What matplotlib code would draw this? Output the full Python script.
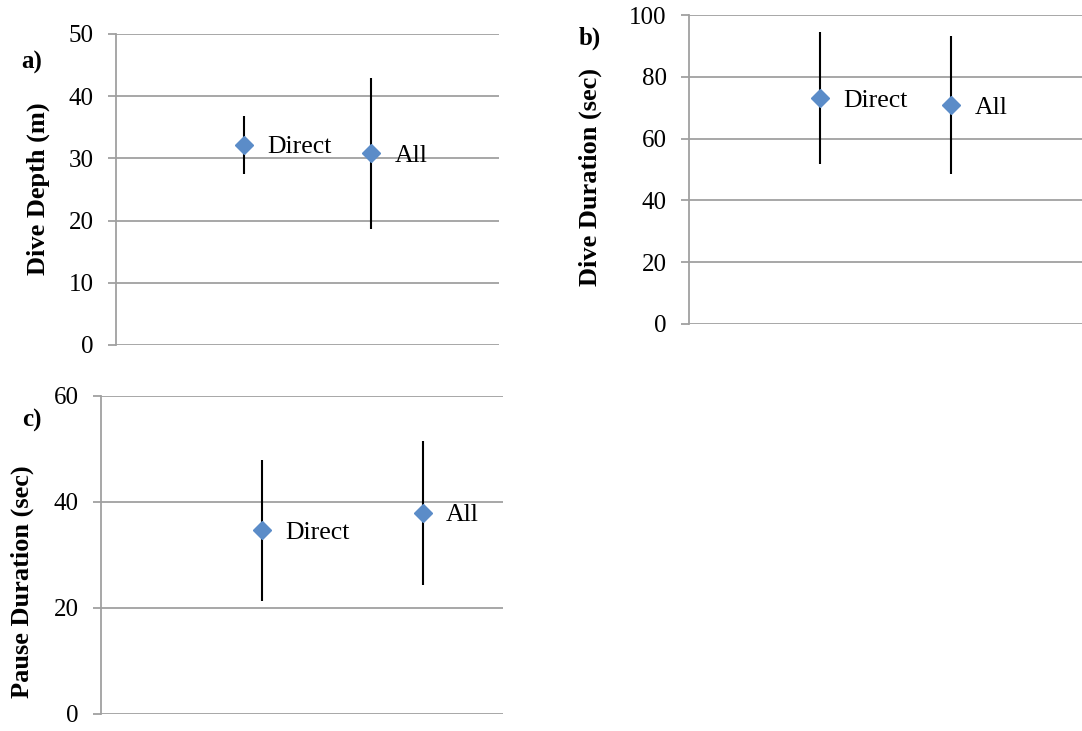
import numpy as np
import matplotlib
matplotlib.use("Agg")
import matplotlib.pyplot as plt

plt.rcParams['font.family'] = ['Liberation Serif', 'DejaVu Serif']

# data
groups = ["Direct", "All"]

depth_mean = [32.2, 30.9]
depth_hi = [36.8, 42.9]
depth_lo = [27.5, 18.6]

dur_mean = [73.1, 70.8]
dur_hi = [94.6, 93.1]
dur_lo = [51.7, 48.6]

pause_mean = [34.7, 38.0]
pause_hi = [48.0, 51.5]
pause_lo = [21.4, 24.3]

W, H = 1082, 731
fig = plt.figure(figsize=(W / 100, H / 100), dpi=100)

grid_col = '#a0a0a0'
blue = '#5b8cc8'


def px_axes(l, r, t, b):
    return fig.add_axes([l / W, 1 - b / H, (r - l) / W, (b - t) / H])


def panel(ax, mean, lo, hi, xmax, ymax, step):
    x = np.arange(1, len(mean) + 1)
    mean = np.array(mean)
    yerr = [mean - np.array(lo), np.array(hi) - mean]
    ax.errorbar(x, mean, yerr=yerr, fmt='none', ecolor='black', elinewidth=1.5, capsize=0, zorder=3)
    ax.plot(x, mean, 'D', color=blue, ms=9, mec=blue, zorder=4)
    for xi, yi, g in zip(x, mean, groups):
        ax.annotate(g, (xi, yi), xytext=(17, -2), textcoords='offset points',
                    ha='left', va='center', fontsize=18.5)
    ax.set_xlim(0, xmax)
    ax.set_ylim(0, ymax)
    ax.set_yticks(np.arange(0, ymax + 1, step))
    ax.set_xticks([])
    ax.yaxis.grid(True, color=grid_col, linewidth=1.3)
    ax.set_axisbelow(True)
    for s in ['top', 'right', 'bottom']:
        ax.spines[s].set_visible(False)
    ax.spines['left'].set_color(grid_col)
    ax.spines['left'].set_linewidth(1.3)
    ax.tick_params(axis='y', direction='out', length=6, width=1.3, color=grid_col,
                   labelsize=18, pad=10)
    ax.set_facecolor('none')


ax_a = px_axes(116, 499, 34, 345)
panel(ax_a, depth_mean, depth_lo, depth_hi, 3, 50, 10)

ax_b = px_axes(689, 1082, 15, 324)
panel(ax_b, dur_mean, dur_lo, dur_hi, 3, 100, 20)

ax_c = px_axes(101, 503, 396, 714)
panel(ax_c, pause_mean, pause_lo, pause_hi, 2.5, 60, 20)


def ftext(x, y, s, size=19, **kw):
    fig.text(x / W, 1 - y / H, s, ha='center', va='center', fontweight='bold', fontsize=size, **kw)


ftext(38, 189, "Dive Depth (m)", rotation=90)
ftext(590, 177, "Dive Duration (sec)", rotation=90)
ftext(22, 582, "Pause Duration (sec)", rotation=90)
ftext(32, 62, "a)", size=18)
ftext(590, 38, "b)", size=18)
ftext(32, 420, "c)", size=18)

fig.savefig("out.png", dpi=100)
